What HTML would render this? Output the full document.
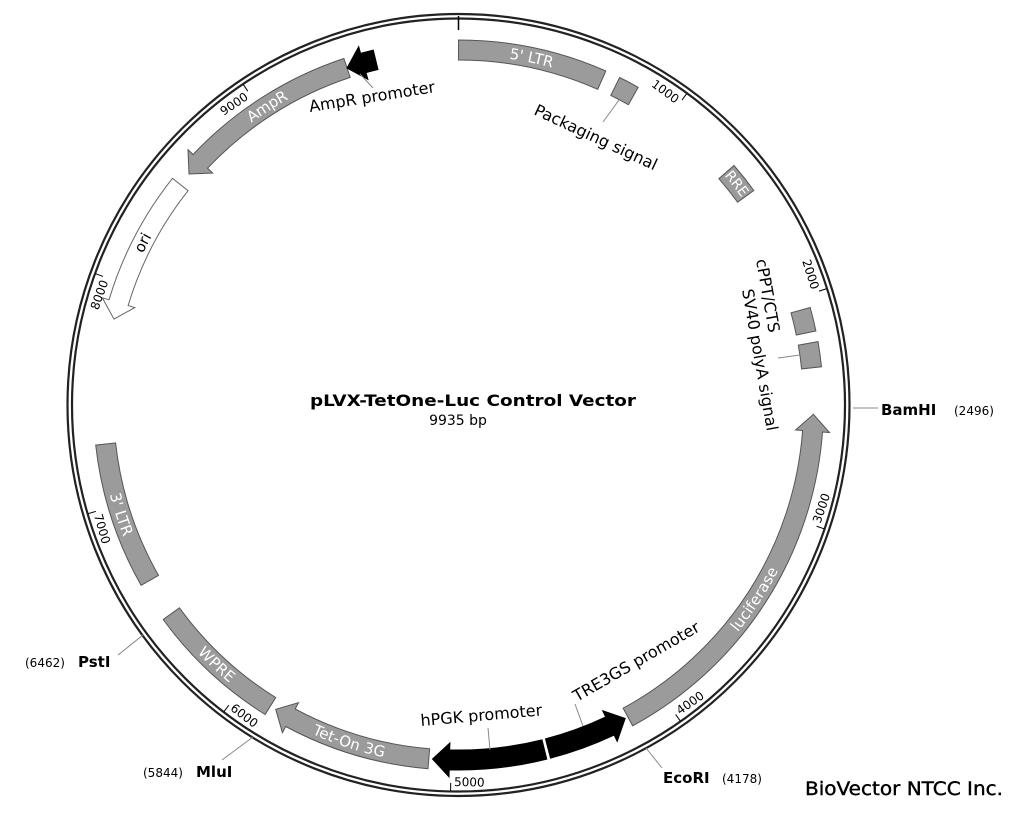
<!DOCTYPE html>
<html><head><meta charset="utf-8">
<style>
html,body{margin:0;padding:0;background:#fff;}
svg{display:block;font-family:"DejaVu Sans","Liberation Sans",sans-serif;}
</style></head>
<body>
<svg id="s" width="1021" height="819" viewBox="0 0 1021 819" xmlns="http://www.w3.org/2000/svg">
<circle cx="458.5" cy="405" r="391" fill="none" stroke="#222" stroke-width="2.2"/>
<circle cx="458.5" cy="405" r="386.5" fill="none" stroke="#222" stroke-width="2.2"/>
<line x1="458.5" y1="16" x2="458.5" y2="30" stroke="#000" stroke-width="1.5"/>
<text x="473" y="406" text-anchor="middle" font-size="16" font-weight="bold" textLength="326" lengthAdjust="spacingAndGlyphs">pLVX-TetOne-Luc Control Vector</text>
<text x="458" y="425" text-anchor="middle" font-size="14">9935 bp</text>
<text x="805" y="795" font-size="19" textLength="198" lengthAdjust="spacingAndGlyphs" stroke="#000" stroke-width="0.4">BioVector NTCC Inc.</text>
<g id="g"></g>
</svg>
<script>
var cx=458.5,cy=405,NS="http://www.w3.org/2000/svg",g=document.getElementById('g');
function rad(a){return a*Math.PI/180;}
function P(a,r){return [cx+r*Math.sin(rad(a)),cy-r*Math.cos(rad(a))];}
function el(t,at,txt){var e=document.createElementNS(NS,t);for(var k in at)e.setAttribute(k,at[k]);if(txt)e.textContent=txt;g.appendChild(e);return e;}
function f(p){return p[0].toFixed(1)+","+p[1].toFixed(1);}
var R1=345,R2=365;
function feat(a1,a2,head,fill,stroke){
 var hl=17/355*180/Math.PI, d="";
 var b1=a1,b2=a2;
 if(head==1)b1=a1+hl; if(head==2)b2=a2-hl;
 var lg=(b2-b1)>180?1:0;
 d="M"+f(P(b1,R2))+" A"+R2+","+R2+" 0 "+lg+" 1 "+f(P(b2,R2));
 if(head==2){d+=" L"+f(P(b2,R2+7))+" L"+f(P(a2,355))+" L"+f(P(b2,R1-7))+" L"+f(P(b2,R1));}
 else d+=" L"+f(P(b2,R1));
 d+=" A"+R1+","+R1+" 0 "+lg+" 0 "+f(P(b1,R1));
 if(head==1){d+=" L"+f(P(b1,R1-7))+" L"+f(P(a1,355))+" L"+f(P(b1,R2+7));}
 d+=" Z";
 el('path',{d:d,fill:fill,stroke:stroke||"#555","stroke-width":1});
}
var pid=0;
function arcLabel(a1,a2,txt,col,size){
 var r=355,id="p"+(pid++),mid=(a1+a2)/2,d;
 var inc=(mid<90||mid>270);
 if(inc)d="M"+f(P(a1,r))+" A"+r+","+r+" 0 0 1 "+f(P(a2,r));
 else d="M"+f(P(a2,r))+" A"+r+","+r+" 0 0 0 "+f(P(a1,r));
 el('path',{id:id,d:d,fill:"none"});
 var t=el('text',{"font-size":size||15,fill:col,"dominant-baseline":"central"});
 var tp=document.createElementNS(NS,'textPath');
 tp.setAttribute('href','#'+id);tp.setAttribute('startOffset','50%');tp.setAttribute('text-anchor','middle');
 tp.textContent=txt;t.appendChild(tp);
}
var G="#9b9b9b";
feat(0,23.8,0,G); arcLabel(0,23.8,"5' LTR","#fff");
feat(26.2,29.5,0,G);
feat(49,54,0,G); arcLabel(49,54,"RRE","#fff",14);
feat(74.5,78.3,0,G);
feat(80,84,0,G);
feat(91.5,151.5,1,G); arcLabel(95,151.5,"luciferase","#fff");
feat(152,165.4,1,"#000","#000");
feat(166,184.2,2,"#000","#000");
feat(184.8,211,2,G); arcLabel(187,209,"Tet-On 3G","#fff");
feat(212,234,0,G); arcLabel(212,234,"WPRE","#fff");
feat(240.4,263.7,0,G); arcLabel(240.4,263.7,"3' LTR","#fff");
feat(284,308.4,1,"#fff","#666"); arcLabel(286,308.4,"ori","#000");
feat(310.6,341.7,1,G); arcLabel(313,341.7,"AmpR","#fff");
feat(341.7,346.5,1,"#000","#000");
var ticks=[1000,2000,3000,4000,5000,6000,7000,8000,9000];
ticks.forEach(function(t){
 var a=t/9935*360,p1=P(a,386),p2=P(a,378);
 el('line',{x1:p1[0],y1:p1[1],x2:p2[0],y2:p2[1],stroke:"#000","stroke-width":1});
 var up=(a<90||a>270);
 var q=P(a-0.5,up?371:381);
 el('text',{x:q[0],y:q[1],"font-size":12,"text-anchor":up?"end":"start",transform:"rotate("+(up?a:a-180)+" "+q[0].toFixed(1)+" "+q[1].toFixed(1)+")"},""+t);
});
function L(x1,y1,x2,y2){el('line',{x1:x1,y1:y1,x2:x2,y2:y2,stroke:"#888","stroke-width":1});}
L(853,408,878,408); L(646,748,662,768); L(253,737,222,760); L(143,635,118,655);
el('text',{x:881,y:415,"font-size":15,"font-weight":"bold"},"BamHI");
el('text',{x:954,y:415,"font-size":12},"(2496)");
el('text',{x:663,y:783,"font-size":15,"font-weight":"bold"},"EcoRI");
el('text',{x:722,y:783,"font-size":12},"(4178)");
el('text',{x:143,y:777,"font-size":12},"(5844)");
el('text',{x:196,y:777,"font-size":15,"font-weight":"bold"},"MluI");
el('text',{x:25,y:667,"font-size":12},"(6462)");
el('text',{x:78,y:667,"font-size":15,"font-weight":"bold"},"PstI");
L(619,100,603,122); L(360,74,373,88); L(800,355,778,358); L(575,704,583,726); L(488,728,490,750);
el('text',{x:0,y:0,"font-size":16,transform:"translate(533,114) rotate(25)"},"Packaging signal");
el('text',{x:0,y:0,"font-size":16,transform:"translate(310,112) rotate(-9)"},"AmpR promoter");
el('text',{x:0,y:0,"font-size":16,transform:"translate(756,260) rotate(80)"},"cPPT/CTS");
el('text',{x:0,y:0,"font-size":16,transform:"translate(742,290) rotate(80)"},"SV40 polyA signal");
el('text',{x:0,y:0,"font-size":16,transform:"translate(577,702) rotate(-30)"},"TRE3GS promoter");
el('text',{x:0,y:0,"font-size":16,transform:"translate(421,726) rotate(-5)"},"hPGK promoter");
</script>
</body></html>
